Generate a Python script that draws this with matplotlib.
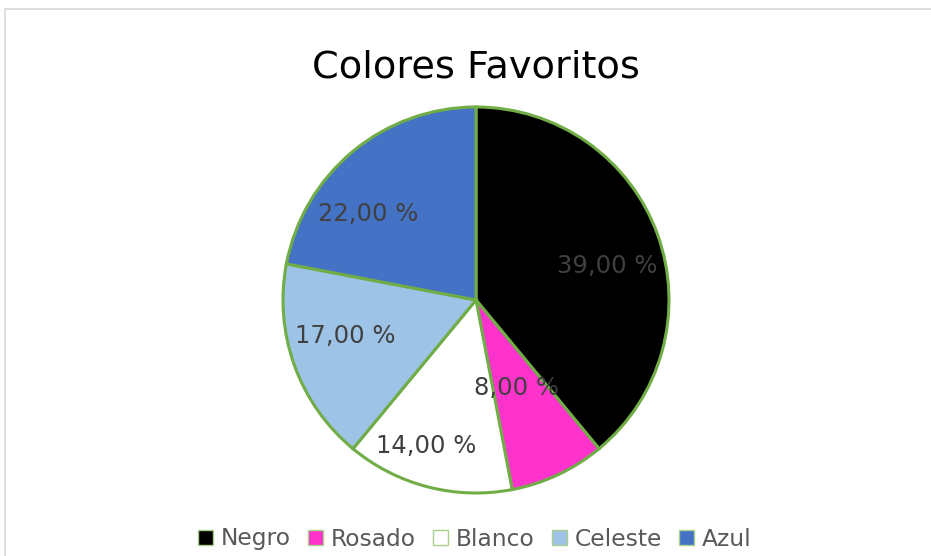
import numpy as np
import matplotlib.pyplot as plt
from matplotlib.patches import Rectangle, Patch

plt.rcParams["font.family"] = "DejaVu Sans"

categorias = ["Negro", "Rosado", "Blanco", "Celeste", "Azul"]
valores = [39.0, 8.0, 14.0, 17.0, 22.0]
colores = ["#000000", "#FF33CC", "#FFFFFF", "#9DC3E6", "#4472C4"]
etiquetas = ["39,00 %", "8,00 %", "14,00 %", "17,00 %", "22,00 %"]

# label placement: radial distance and angular shift (deg) from the wedge middle
dist_etiqueta = [0.693, 0.535, 0.834, 0.714, 0.691]
giro_etiqueta = [-8.2, -2.1, -3.7, -1.6, 14.1]

W, H = 931, 556
fig = plt.figure(figsize=(W / 100, H / 100), dpi=100)
fig.patch.set_facecolor("white")

# chart area frame
fig.patches.append(Rectangle((4.5 / W, -0.1), 2, (H - 8.5) / H + 0.1,
                             transform=fig.transFigure, fill=False,
                             edgecolor="#D9D9D9", linewidth=1.2))

cx, cy, r = 476, 300, 193
ax = fig.add_axes([(cx - r) / W, (H - cy - r) / H, 2 * r / W, 2 * r / H])
wedges, _ = ax.pie(valores, colors=colores, startangle=90, counterclock=False,
                   radius=1,
                   wedgeprops=dict(edgecolor="#70AD47", linewidth=2.2))
ax.set_xlim(-1, 1)
ax.set_ylim(-1, 1)
ax.set_aspect("equal")
ax.axis("off")

for w, txt, d, g in zip(wedges, etiquetas, dist_etiqueta, giro_etiqueta):
    ang = np.deg2rad((w.theta1 + w.theta2) / 2 + g)
    ax.text(d * np.cos(ang), d * np.sin(ang), txt, ha="center", va="baseline",
            fontsize=17.5, color="#404040")

fig.text(cx / W, 1 - 77 / H, "Colores Favoritos", ha="center", va="baseline",
         fontsize=27.5, color="#000000")

proxies = [Patch(facecolor=c, edgecolor="#A9D18E", linewidth=1.0) for c in colores]
fig.legend(proxies, categorias, loc="center", bbox_to_anchor=(475 / W, 1 - 539 / H),
           ncol=5, frameon=False, fontsize=16.8, labelcolor="#595959",
           handlelength=0.64, handleheight=0.64, handletextpad=0.34,
           columnspacing=0.73, borderpad=0.2)

fig.savefig("out.png", dpi=100)
